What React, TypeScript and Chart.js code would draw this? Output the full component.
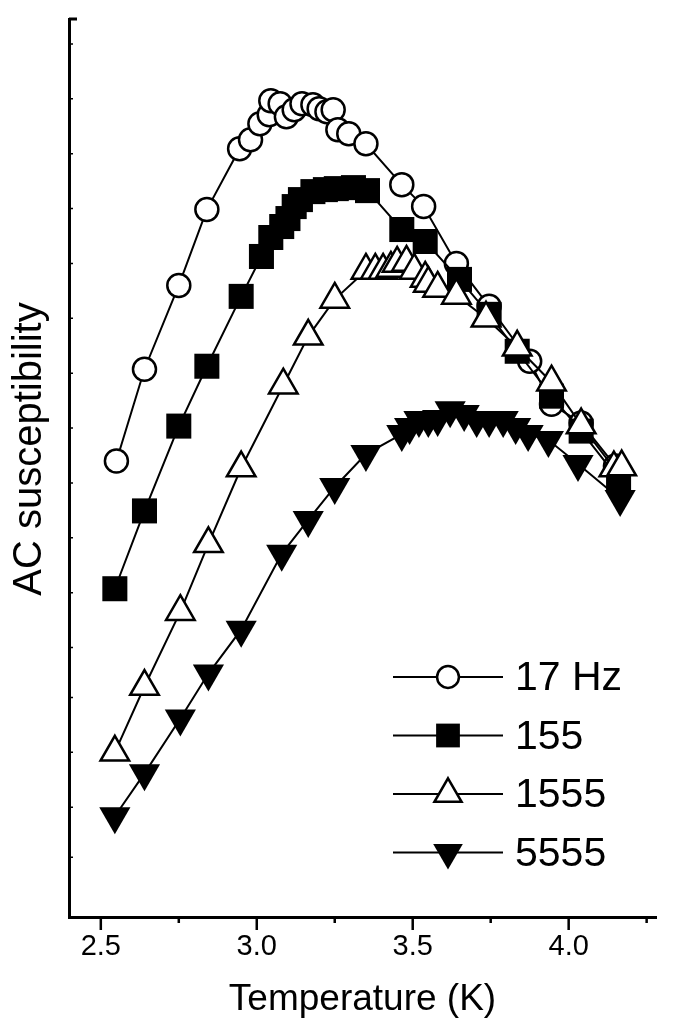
import { useEffect, useRef } from "react";
import { Chart, registerables } from "chart.js";

Chart.register(...registerables);

const seriesLabels = ["17 Hz", "155", "1555", "5555"];
const xAxisTitle = "Temperature (K)";
const yAxisTitle = "AC susceptibility";

const t17 = [2.55, 2.64, 2.75, 2.84, 2.945, 2.98, 3.01, 3.04, 3.045, 3.075, 3.095, 3.12, 3.145, 3.18, 3.2, 3.225, 3.245, 3.26, 3.295, 3.35, 3.465, 3.535, 3.64, 3.745, 3.875, 3.945, 4.04, 4.15];
const v17 = [4.57, 5.49, 6.33, 7.09, 7.7, 7.79, 7.95, 8.04, 8.18, 8.15, 8.02, 8.09, 8.15, 8.14, 8.1, 8.07, 8.09, 7.89, 7.85, 7.75, 7.34, 7.12, 6.55, 6.12, 5.57, 5.14, 4.95, 4.52];

const t155 = [2.545, 2.64, 2.75, 2.84, 2.95, 3.015, 3.045, 3.08, 3.1, 3.12, 3.14, 3.18, 3.22, 3.255, 3.31, 3.355, 3.465, 3.54, 3.65, 3.745, 3.835, 3.945, 4.04, 4.16];
const v155 = [3.29, 4.07, 4.92, 5.52, 6.22, 6.62, 6.81, 6.92, 7.0, 7.12, 7.19, 7.27, 7.29, 7.3, 7.31, 7.28, 6.89, 6.77, 6.39, 6.04, 5.67, 5.22, 4.87, 4.39];

const t1555 = [2.545, 2.64, 2.755, 2.845, 2.95, 3.085, 3.165, 3.25, 3.35, 3.38, 3.405, 3.43, 3.45, 3.48, 3.505, 3.54, 3.55, 3.58, 3.64, 3.735, 3.835, 3.945, 4.04, 4.145, 4.17];
const v1555 = [1.65, 2.31, 3.06, 3.74, 4.5, 5.33, 5.82, 6.19, 6.48, 6.48, 6.48, 6.5, 6.55, 6.56, 6.48, 6.4, 6.35, 6.3, 6.23, 6.0, 5.71, 5.36, 4.93, 4.5, 4.51];

const t5555 = [2.545, 2.64, 2.755, 2.845, 2.95, 3.08, 3.165, 3.25, 3.35, 3.465, 3.49, 3.52, 3.55, 3.58, 3.62, 3.665, 3.705, 3.745, 3.79, 3.83, 3.87, 3.935, 4.03, 4.165];
const v5555 = [1.01, 1.44, 1.99, 2.44, 2.88, 3.64, 3.98, 4.31, 4.64, 4.84, 4.91, 4.98, 4.98, 4.99, 5.08, 5.04, 4.98, 4.98, 4.98, 4.91, 4.84, 4.78, 4.54, 4.19];

const xMajorTicks = [2.5, 3.0, 3.5, 4.0];
const xMinorTicks = [2.75, 3.25, 3.75, 4.25];
const yMinorTicks = [0.6, 1.1, 1.65, 2.2, 2.7, 3.25, 3.8, 4.35, 4.9, 5.45, 6.0, 6.55, 7.1, 7.65, 8.2, 8.75];

const FONT = "'Liberation Sans', Arial, Helvetica, sans-serif";

const zip = (t: number[], v: number[]) => t.map((x, i) => ({ x, y: v[i] }));

type Marker = { style: string; fill: string; radius: number; border: number; rotation: number };
const markers: Marker[] = [
  { style: "circle", fill: "#ffffff", radius: 11.5, border: 2.5, rotation: 0 },
  { style: "rect", fill: "#000000", radius: 17.7, border: 0, rotation: 0 },
  { style: "triangle", fill: "#ffffff", radius: 16.5, border: 2.5, rotation: 0 },
  { style: "triangle", fill: "#000000", radius: 18, border: 0, rotation: 180 },
];

function drawMarker(ctx: CanvasRenderingContext2D, m: Marker, x: number, y: number, scale: number) {
  const r = m.radius * scale;
  ctx.beginPath();
  if (m.style === "circle") {
    ctx.arc(x, y, r, 0, Math.PI * 2);
  } else if (m.style === "rect") {
    const s = r * Math.SQRT1_2;
    ctx.rect(x - s, y - s, 2 * s, 2 * s);
  } else {
    let rad = (m.rotation * Math.PI) / 180;
    ctx.moveTo(x + Math.sin(rad) * r, y - Math.cos(rad) * r);
    rad += (2 * Math.PI) / 3;
    ctx.lineTo(x + Math.sin(rad) * r, y - Math.cos(rad) * r);
    rad += (2 * Math.PI) / 3;
    ctx.lineTo(x + Math.sin(rad) * r, y - Math.cos(rad) * r);
    ctx.closePath();
  }
  ctx.fillStyle = m.fill;
  ctx.fill();
  if (m.border > 0) {
    ctx.lineWidth = m.border;
    ctx.strokeStyle = "#000";
    ctx.stroke();
  }
}

const tickPlugin = {
  id: "customTicks",
  afterDraw(chart: any) {
    const { ctx, chartArea, scales } = chart;
    const x = scales.x;
    const y = scales.y;
    ctx.save();
    ctx.strokeStyle = "#000";
    ctx.lineWidth = 2.5;
    ctx.beginPath();
    for (const v of xMajorTicks) {
      const px = x.getPixelForValue(v);
      ctx.moveTo(px, chartArea.bottom);
      ctx.lineTo(px, chartArea.bottom + 13);
    }
    for (const v of xMinorTicks) {
      const px = x.getPixelForValue(v);
      ctx.moveTo(px, chartArea.bottom);
      ctx.lineTo(px, chartArea.bottom + 6);
    }
    ctx.stroke();
    ctx.lineWidth = 1.5;
    ctx.beginPath();
    for (const v of yMinorTicks) {
      const py = y.getPixelForValue(v);
      ctx.moveTo(chartArea.left, py);
      ctx.lineTo(chartArea.left + 4, py);
    }
    ctx.stroke();
    ctx.lineWidth = 3;
    ctx.beginPath();
    ctx.moveTo(chartArea.left, chartArea.top);
    ctx.lineTo(chartArea.left + 8, chartArea.top);
    ctx.stroke();

    // y axis title
    ctx.translate(30, (chartArea.top + chartArea.bottom) / 2 - 19);
    ctx.rotate(-Math.PI / 2);
    ctx.font = `40px ${FONT}`;
    ctx.fillStyle = "#000";
    ctx.textAlign = "center";
    ctx.textBaseline = "middle";
    ctx.fillText(yAxisTitle, 0, 0);
    ctx.restore();
  },
};

const legendPlugin = {
  id: "customLegend",
  afterDraw(chart: any) {
    const { ctx, chartArea } = chart;
    const lineX0 = chartArea.left + 324;
    const lineX1 = chartArea.left + 434;
    const textX = chartArea.left + 446;
    const y0 = chartArea.top + 658;
    const dy = 58.5;
    ctx.save();
    ctx.font = `41px ${FONT}`;
    ctx.textBaseline = "middle";
    ctx.textAlign = "left";
    seriesLabels.forEach((label, i) => {
      const y = y0 + i * dy;
      ctx.strokeStyle = "#000";
      ctx.lineWidth = 2;
      ctx.beginPath();
      ctx.moveTo(lineX0, y);
      ctx.lineTo(lineX1, y);
      ctx.stroke();
      drawMarker(ctx, markers[i], (lineX0 + lineX1) / 2, y, 0.95);
      ctx.fillStyle = "#000";
      ctx.fillText(label, textX, y + 2);
    });
    ctx.restore();
  },
};

export default function App() {
  const ref = useRef<HTMLCanvasElement | null>(null);
  useEffect(() => {
    if (!ref.current) return;
    const seriesData = [zip(t17, v17), zip(t155, v155), zip(t1555, v1555), zip(t5555, v5555)];
    const chart = new Chart(ref.current, {
      type: "scatter",
      data: {
        datasets: seriesData.map((d, i) => ({
          label: seriesLabels[i],
          data: d,
          showLine: true,
          borderColor: "#000",
          borderWidth: 2,
          pointStyle: markers[i].style as any,
          pointRadius: markers[i].radius,
          pointHoverRadius: markers[i].radius,
          pointBackgroundColor: markers[i].fill,
          pointBorderColor: "#000",
          pointBorderWidth: markers[i].border,
          pointRotation: markers[i].rotation,
          order: 4 - i,
          clip: false as any,
        })),
      },
      options: {
        animation: false,
        responsive: false,
        devicePixelRatio: 1,
        layout: { padding: { top: 17, right: 0, bottom: 0, left: 0 } },
        plugins: { legend: { display: false }, tooltip: { enabled: false } },
        scales: {
          x: {
            type: "linear",
            min: 2.398,
            max: 4.28,
            afterFit: (s: any) => {
              s.height = 106;
            },
            border: { display: true, color: "#000", width: 3 },
            grid: { drawOnChartArea: false, drawTicks: true, tickLength: 12, tickColor: "rgba(0,0,0,0)" },
            ticks: {
              stepSize: 0.5,
              includeBounds: false,
              padding: 1,
              color: "#000",
              font: { family: FONT, size: 29 },
              maxRotation: 0,
              autoSkip: false,
              callback: (v: any) => Number(v).toFixed(1),
            },
            title: {
              display: true,
              text: xAxisTitle,
              color: "#000",
              font: { family: FONT, size: 37 },
              padding: { top: 0, bottom: 1 },
            },
          },
          y: {
            type: "linear",
            min: 0,
            max: 9,
            afterFit: (s: any) => {
              s.width = 69;
            },
            border: { display: true, color: "#000", width: 3 },
            grid: { display: false },
            ticks: { display: false },
            title: { display: false },
          },
        },
      },
      plugins: [tickPlugin, legendPlugin],
    });
    return () => chart.destroy();
  }, []);
  return (
    <div style={{ position: "absolute", left: 0, top: 0, width: 675, height: 1023, background: "#fff" }}>
      <canvas ref={ref} width={675} height={1023} />
    </div>
  );
}
